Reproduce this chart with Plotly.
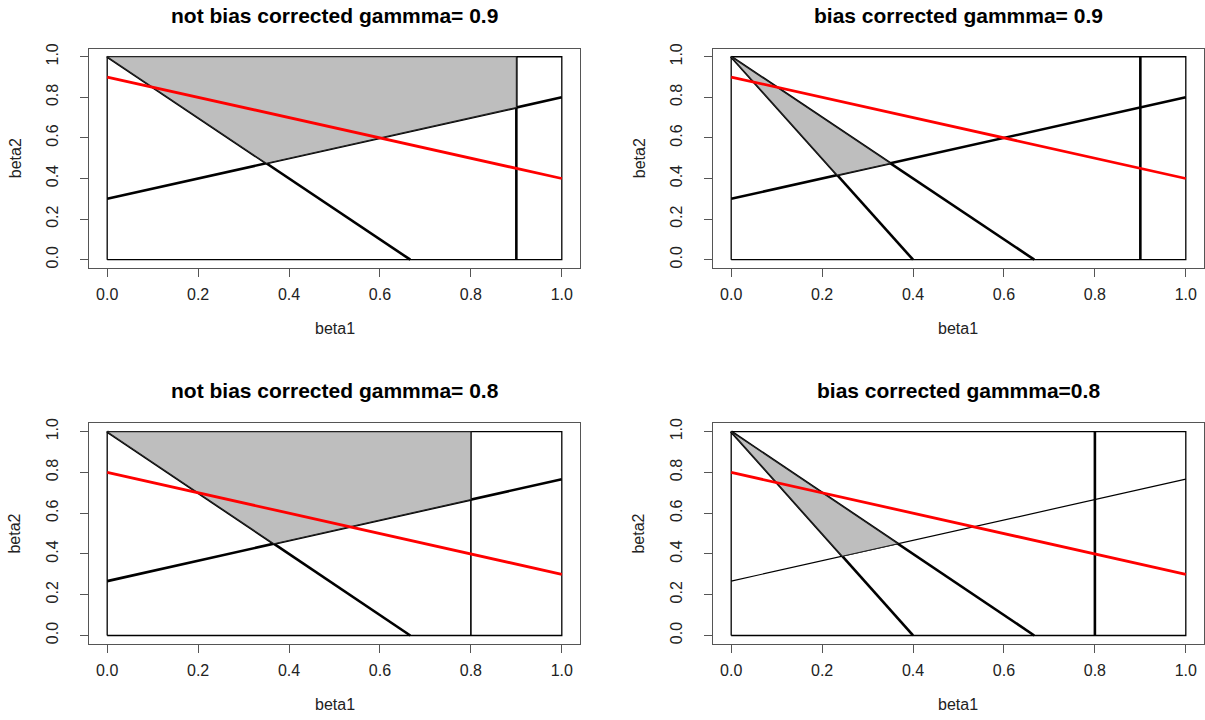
import plotly.graph_objects as go

# Panel titles and the gamma value used in each panel
titles = [
    "not bias corrected gammma= 0.9",
    "bias corrected gammma= 0.9",
    "not bias corrected gammma= 0.8",
    "bias corrected gammma=0.8",
]
gamma = [0.9, 0.9, 0.8, 0.8]

# Red line: beta2 at beta1 = 0 and at beta1 = 1
red_start = [0.9, 0.9, 0.8, 0.8]
red_end = [0.4, 0.4, 0.3, 0.3]

# Rising black line: beta2 at beta1 = 0 and at beta1 = 1
rise_start = [0.30, 0.30, 0.2667, 0.2667]
rise_end = [0.80, 0.80, 0.7667, 0.7667]
rise_width = [2.6, 2.6, 2.6, 1.2]

# Falling black lines from (0, 1): where they reach beta2 = 0
fall_roots = [[0.6667], [0.4, 0.6667], [0.6667], [0.4, 0.6667]]

# Vertical line at beta1 = gamma
vert_width = [2.6, 2.6, 1.6, 2.6]

# Shaded region: bounded by the vertical line (False) or by both falling lines (True)
between_falls = [False, True, False, True]

tick_vals = [0.0, 0.2, 0.4, 0.6, 0.8, 1.0]
tick_text = ["0.0", "0.2", "0.4", "0.6", "0.8", "1.0"]

W, H = 1205, 720
FONT = "Liberation Sans, Arial, sans-serif"

# Plot-box pixel positions (left, right, top, bottom)
boxes = [
    (89, 580, 44, 265),
    (713, 1204, 44, 265),
    (89, 580, 422, 644),
    (713, 1204, 422, 644),
]


def line_through(x0, y0, x1, y1):
    k = (y1 - y0) / (x1 - x0)
    return k, y0 - k * x0


def cross(l1, l2):
    (k1, b1), (k2, b2) = l1, l2
    x = (b2 - b1) / (k1 - k2)
    return x, k1 * x + b1


fig = go.Figure()
annotations = []

for i in range(4):
    xa = "x" if i == 0 else f"x{i + 1}"
    ya = "y" if i == 0 else f"y{i + 1}"
    common = dict(xaxis=xa, yaxis=ya, mode="lines", showlegend=False, hoverinfo="skip")

    # unit square frame
    fig.add_trace(go.Scatter(x=[0, 1, 1, 0, 0], y=[0, 0, 1, 1, 0],
                             line=dict(color="black", width=1.3), **common))
    # rising line
    fig.add_trace(go.Scatter(x=[0, 1], y=[rise_start[i], rise_end[i]],
                             line=dict(color="black", width=rise_width[i]), **common))
    # falling lines
    for r in fall_roots[i]:
        fig.add_trace(go.Scatter(x=[0, r], y=[1, 0],
                                 line=dict(color="black", width=2.6), **common))
    # vertical line
    fig.add_trace(go.Scatter(x=[gamma[i], gamma[i]], y=[0, 1],
                             line=dict(color="black", width=vert_width[i]), **common))

    # shaded polygon
    rise = line_through(0, rise_start[i], 1, rise_end[i])
    falls = [line_through(0, 1, r, 0) for r in fall_roots[i]]
    if between_falls[i]:
        p_outer = cross(rise, falls[1])
        p_inner = cross(rise, falls[0])
        px = [0, p_outer[0], p_inner[0], 0]
        py = [1, p_outer[1], p_inner[1], 1]
    else:
        p = cross(rise, falls[0])
        yv = rise[0] * gamma[i] + rise[1]
        px = [0, gamma[i], gamma[i], p[0], 0]
        py = [1, 1, yv, p[1], 1]
    fig.add_trace(go.Scatter(x=px, y=py, fill="toself", fillcolor="#bebebe",
                             line=dict(color="#222222", width=1.1), **common))

    # red line
    fig.add_trace(go.Scatter(x=[0, 1], y=[red_start[i], red_end[i]],
                             line=dict(color="#ff0000", width=2.8), **common))

    left, right, top, bottom = boxes[i]
    axis_common = dict(
        range=[-0.04, 1.04], showgrid=False, zeroline=False,
        showline=True, mirror=True, linecolor="#555555", linewidth=1.2,
        ticks="outside", ticklen=8, tickwidth=1.2, tickcolor="#555555",
        tickvals=tick_vals, ticktext=tick_text,
        tickfont=dict(family=FONT, size=16, color="#222222"),
    )
    fig.update_layout(**{
        ("xaxis" if i == 0 else f"xaxis{i + 1}"): dict(
            domain=[left / W, right / W], anchor=ya, ticklabelstandoff=4, **axis_common),
        ("yaxis" if i == 0 else f"yaxis{i + 1}"): dict(
            domain=[1 - bottom / H, 1 - top / H], anchor=xa, tickangle=-90,
            ticklabelstandoff=16, **axis_common),
    })

    cx = (left + right) / 2 / W
    annotations.append(dict(text=f"<b>{titles[i]}</b>", x=cx, y=1 - (top - 33) / H,
                            xref="paper", yref="paper", showarrow=False,
                            xanchor="center", yanchor="middle",
                            font=dict(family=FONT, size=21, color="black")))
    annotations.append(dict(text="beta1", x=cx, y=1 - (bottom + 61) / H,
                            xref="paper", yref="paper", showarrow=False,
                            xanchor="center", yanchor="middle",
                            font=dict(family=FONT, size=16, color="#222222")))
    annotations.append(dict(text="beta2", x=(left - 74) / W, y=1 - (top + bottom) / 2 / H,
                            xref="paper", yref="paper", showarrow=False, textangle=-90,
                            xanchor="center", yanchor="middle",
                            font=dict(family=FONT, size=16, color="#222222")))

fig.update_layout(
    width=W, height=H, margin=dict(l=0, r=0, t=0, b=0),
    paper_bgcolor="white", plot_bgcolor="white",
    annotations=annotations,
)

fig.write_html("out.html")
